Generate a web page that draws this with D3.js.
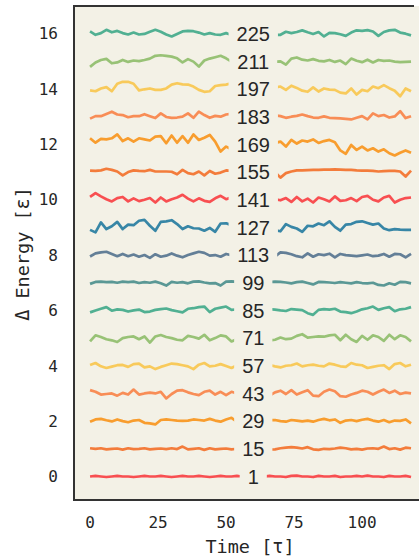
<!DOCTYPE html>
<html>
  <head>
    <title>Energy traces</title>
    <style>
      body {
        margin: 0px;
        overflow: hidden;
        background: #ffffff;
      }
    </style>
    <script src="https://d3js.org/d3.v7.min.js"></script>
  </head>
  <body>

    <svg width="419" height="556"></svg>

    <script>
      // time grid, one sample every 2 tau
      const time = d3.range(0, 120, 2);

      // run labels, bottom to top
      const runs = [1, 15, 29, 43, 57, 71, 85, 99, 113, 127, 141, 155, 169, 183, 197, 211, 225];

      // fluctuations around each level, in 0.01 eps
      const e1 = [0,2,0,-2,0,2,0,0,-2,0, 2,0,0,2,0,-2,0,2,0,0, 2,0,-2,0,2,0,0,2,0,0, 0,0,0,2,0,0,-2,2,3,0, 0,-2,2,0,0,2,-2,0,0,2, 0,3,0,0,-2,2,0,0,2,-2];
      const e15 = [2,0,2,-2,0,1,-3,2,-1,0, 2,-2,0,1,-1,2,-1,8,-2,0, 2,-4,2,-2,0,1,-2,0,1,-1, 0,2,-2,-3,-2,2,4,6,4,1, 6,-2,-4,0,-1,1,4,2,-2,0, -3,1,2,0,8,-1,2,-3,4,2];
      const e29 = [-2,6,8,3,-1,6,0,-4,2,4, -6,-8,-12,4,6,4,2,1,2,6, 4,2,8,2,-2,6,12,-2,2,0, -2,1,0,3,4,0,-2,4,2,-1, 2,-2,4,8,3,6,-6,2,4,0, 5,8,2,-2,4,-4,2,1,6,-8];
      const e43 = [12,6,-4,-2,0,-8,2,-4,14,-4, 0,3,0,6,-18,-2,10,12,4,-2, -6,6,10,-4,6,-6,6,0,4,-2, 2,0,0,-8,4,10,-2,12,-4,4, 12,-8,-10,6,14,8,-10,-12,-4,2, 10,6,-4,6,14,2,10,-2,3,0];
      const e57 = [3,10,-2,-8,-3,2,3,-4,6,8, -6,-2,-12,-4,2,8,6,2,-2,-12, 4,10,-2,0,6,-1,-8,2,0,3, -2,1,2,3,-2,-6,0,2,8,-2, 2,4,0,-2,8,4,-2,-4,10,4, 2,-8,-4,0,2,-12,6,10,-2,4];
      const e71 = [-12,10,4,-4,-8,-14,0,4,6,-4, 6,-16,6,11,4,0,-6,-8,8,4, -2,12,-8,0,10,6,-12,-4,2,-4, 3,0,0,-8,-6,2,-4,-2,8,14, 2,4,6,5,10,12,-8,12,-4,-14, 8,-6,10,4,-10,12,-4,10,4,-12];
      const e85 = [-7,0,6,12,-1,4,2,-4,0,3, -6,-4,2,5,7,1,-3,-7,6,8, 12,14,-6,6,10,14,2,4,2,0, 3,1,0,4,3,0,-2,5,3,1, -10,-16,2,5,3,6,-4,-6,-10,-4, 4,8,14,2,8,12,-3,4,6,12];
      const e99 = [-4,3,4,2,3,0,4,2,4,-1, 2,0,4,-2,-10,3,0,2,-2,4, 5,1,-2,-1,-10,4,5,4,2,0, 1,2,0,3,4,3,1,-2,2,4, -1,-6,3,2,1,-1,2,0,-2,2, -1,-2,0,-8,-10,-2,-7,3,2,-2];
      const e113 = [-5,6,10,12,4,-4,4,-4,2,-6, 0,-10,3,-6,-2,6,-2,-8,0,6, 12,8,-2,0,-6,4,0,0,2,-2, 0,3,0,0,-5,10,8,3,-4,-8, 6,-6,3,0,5,-8,4,0,-2,-4, -1,2,-4,-2,4,-6,4,3,-8,4];
      const e127 = [-9,-18,18,-6,4,20,-6,10,8,24, 27,6,-12,20,22,26,12,-6,4,-3, -4,-12,-2,-16,14,15,8,0,4,-6, 2,-4,0,0,-10,-14,12,2,-4,-16, 6,4,14,8,22,2,-12,10,12,20, 22,16,10,14,-4,-10,-6,-8,-9,-9];
      const e141 = [10,24,12,2,-6,6,10,-6,5,-5, 0,6,-10,8,-6,2,8,18,4,-6, 5,-4,-8,5,14,2,8,0,3,-2, 4,0,0,0,2,-2,6,-8,10,-6, 4,-10,8,2,-6,12,-4,-2,6,-5, 10,14,0,-6,8,14,-10,0,6,8];
      const e155 = [5,4,6,12,8,2,-12,0,6,4, 3,8,2,2,2,1,-8,8,-4,-8, 2,-12,4,-6,-2,6,5,0,2,0, -2,1,0,0,0,-20,-4,2,6,6, 7,8,8,9,9,10,9,8,8,6, 5,5,4,2,3,4,4,2,-16,5];
      const e169 = [22,6,20,18,22,36,12,22,10,22, 18,14,28,30,4,32,6,30,6,36, 16,24,34,10,-26,-8,-18,5,0,4, -2,2,0,0,5,10,-8,16,3,14, 10,18,5,12,16,8,-22,-34,-2,-20, -8,-22,-14,-26,-18,-32,-40,-30,-22,-30];
      const e183 = [-7,2,2,10,18,8,6,-2,2,2, 9,2,-5,12,-1,-4,-3,0,12,-4, 18,6,-4,3,0,8,10,4,2,0, 3,1,0,2,5,2,-4,0,3,8, 2,-3,-4,1,-4,-5,-6,-8,-10,-4, 2,-10,12,2,6,-3,1,20,-5,2];
      const e197 = [-5,-8,2,7,-8,19,26,26,19,-5, -1,2,-3,-3,2,16,21,17,16,9, -3,-10,-8,11,14,16,21,15,8,2, -2,0,0,0,5,9,-3,12,4,-6, -10,6,-9,2,-2,-3,-13,-16,2,-20, -3,-8,9,3,14,3,-6,-26,2,-8];
      const e211 = [-20,-4,5,9,-7,-4,5,-2,3,1, 5,10,20,22,20,17,11,-4,8,-1, -19,3,10,15,20,11,-1,0,2,-3, 0,1,0,0,-2,0,-12,10,14,6, 3,8,2,0,5,-2,3,-10,10,2, -3,6,-4,5,2,3,-1,-3,-2,-1];
      const e225 = [8,-4,2,14,5,10,2,-3,4,-3, -1,7,14,7,-3,-10,-1,8,10,9, 4,-3,2,-3,-4,2,-5,2,0,3, -2,4,0,0,-4,-4,7,2,6,12, 5,-1,6,-10,3,2,-2,-8,4,12, 10,13,8,-8,6,12,14,4,0,-6];

      const traces = [e1, e15, e29, e43, e57, e71, e85, e99, e113, e127, e141, e155, e169, e183, e197, e211, e225];

      const yTicks = [0, 2, 4, 6, 8, 10, 12, 14, 16];
      const xTicks = [0, 25, 50, 75, 100];

      const palette = ['#f94144', '#f3722c', '#f8961e', '#f9844a', '#f9c74f',
                       '#90be6d', '#43aa8b', '#4d908e', '#577590', '#277da1'];

      const svg = d3.select('svg');
      const mono = "'DejaVu Sans Mono', monospace";
      const ink = '#262626';

      const plot = { left: 74, top: 6, right: 426, bottom: 500 };

      const x = d3.scaleLinear().domain([-5.9, 123.5]).range([plot.left, plot.right]);
      const y = d3.scaleLinear().domain([-0.85, 17]).range([plot.bottom, plot.top]);

      // panel
      svg.append('rect')
        .attr('x', plot.left).attr('y', plot.top)
        .attr('width', plot.right - plot.left)
        .attr('height', plot.bottom - plot.top)
        .attr('fill', '#f3f1e6');

      const defs = svg.append('defs');
      const labelT = 60;
      const pad = 8;

      const line = d3.line()
        .x(d => x(d.t))
        .y(d => y(d.v));

      runs.forEach((run, i) => {
        const pts = traces[i].map((v, j) => ({ t: time[j], v: i + v / 100 }));
        const cx = x(labelT);

        const label = svg.append('text')
          .attr('x', cx)
          .attr('y', y(i))
          .attr('dy', '0.36em')
          .attr('text-anchor', 'middle')
          .attr('font-family', "'Liberation Sans', Arial, sans-serif")
          .attr('font-size', 20)
          .attr('fill', ink)
          .text(run);

        const w = label.node().getComputedTextLength();
        const clip = defs.append('clipPath').attr('id', `gap-${i}`);
        clip.append('rect')
          .attr('x', plot.left).attr('y', 0)
          .attr('width', cx - w / 2 - pad - plot.left).attr('height', 556);
        clip.append('rect')
          .attr('x', cx + w / 2 + pad).attr('y', 0)
          .attr('width', plot.right - (cx + w / 2 + pad)).attr('height', 556);

        svg.append('path')
          .datum(pts)
          .attr('d', line)
          .attr('clip-path', `url(#gap-${i})`)
          .attr('fill', 'none')
          .attr('stroke', palette[i % palette.length])
          .attr('stroke-width', 2.7)
          .attr('stroke-linejoin', 'round')
          .attr('stroke-opacity', 0.92);
      });

      // spines
      svg.append('line')
        .attr('x1', plot.left).attr('x2', plot.left)
        .attr('y1', plot.top - 1).attr('y2', plot.bottom + 1)
        .attr('stroke', '#333').attr('stroke-width', 2);
      svg.append('line')
        .attr('x1', plot.left).attr('x2', 414)
        .attr('y1', plot.top).attr('y2', plot.top)
        .attr('stroke', '#333').attr('stroke-width', 2);
      svg.append('line')
        .attr('x1', plot.left).attr('x2', 419)
        .attr('y1', plot.bottom).attr('y2', plot.bottom)
        .attr('stroke', '#333').attr('stroke-width', 2);

      // tick labels
      svg.selectAll('.ytick').data(yTicks)
        .enter().append('text')
          .attr('class', 'ytick')
          .attr('x', 58)
          .attr('y', d => y(d))
          .attr('dy', '0.36em')
          .attr('text-anchor', 'end')
          .attr('font-family', mono)
          .attr('font-size', 16)
          .attr('fill', ink)
          .text(d => d);

      svg.selectAll('.xtick').data(xTicks)
        .enter().append('text')
          .attr('class', 'xtick')
          .attr('x', d => x(d))
          .attr('y', 522)
          .attr('dy', '0.36em')
          .attr('text-anchor', 'middle')
          .attr('font-family', mono)
          .attr('font-size', 16)
          .attr('fill', ink)
          .text(d => d);

      // axis titles
      svg.append('text')
        .attr('x', 250)
        .attr('y', 546)
        .attr('dy', '0.36em')
        .attr('text-anchor', 'middle')
        .attr('font-family', mono)
        .attr('font-size', 18.5)
        .attr('fill', ink)
        .text('Time [τ]');

      svg.append('text')
        .attr('transform', 'translate(22,254) rotate(-90)')
        .attr('dy', '0.36em')
        .attr('text-anchor', 'middle')
        .attr('font-family', mono)
        .attr('font-size', 18.5)
        .attr('fill', ink)
        .text('Δ Energy [ε]');
    </script>
  </body>
</html>
